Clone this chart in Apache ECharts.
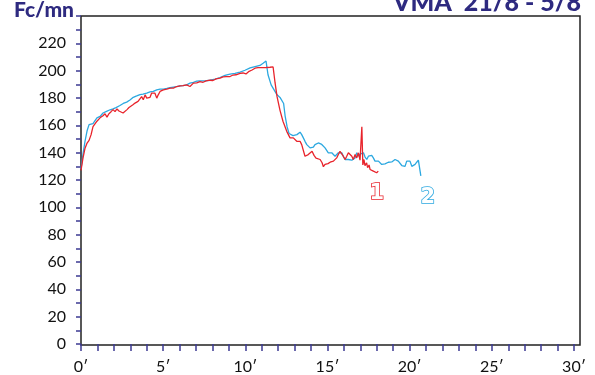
<!DOCTYPE html>
<html>
<head>
<meta charset="utf-8">
<script src="https://cdn.jsdelivr.net/npm/echarts@6/dist/echarts.min.js"></script>
<style>
html,body{margin:0;padding:0;background:#fff;}
#chart{width:595px;height:375px;}
</style>
</head>
<body>
<div id="chart"></div>
<script>
// Test 1 (red)
var redTime = [0.00,0.12,0.24,0.37,0.49,0.61,0.73,0.85,0.97,1.16,1.34,1.46,1.58,1.70,1.83,1.95,2.07,2.19,2.31,2.43,2.56,2.68,2.80,2.92,3.04,3.16,3.29,3.47,3.59,3.69,3.79,3.90,4.00,4.11,4.20,4.30,4.40,4.50,4.61,4.70,4.81,5.01,5.22,5.42,5.62,5.82,6.03,6.21,6.43,6.63,6.84,7.04,7.24,7.43,7.61,7.85,8.03,8.22,8.46,8.64,8.83,9.07,9.25,9.43,9.68,9.86,10.04,10.23,10.41,10.59,10.77,11.02,11.26,11.50,11.69,11.81,11.93,12.11,12.29,12.52,12.62,12.72,12.82,12.92,13.02,13.13,13.23,13.33,13.43,13.53,13.63,13.74,13.83,13.94,14.06,14.18,14.30,14.42,14.55,14.67,14.75,14.85,14.95,15.03,15.16,15.26,15.36,15.46,15.56,15.66,15.76,15.87,15.96,16.07,16.17,16.27,16.37,16.48,16.57,16.68,16.78,16.88,16.98,17.09,17.15,17.22,17.28,17.38,17.44,17.53,17.59,17.71,17.79,17.89,17.99,18.09];
var redHr = [127,136,143,147,149,153,159,161,163,165.5,167,168.5,166,168.5,170,171.5,170,172,170.5,171.5,169,168,171.5,173,173.8,175,176.3,177.5,178.7,181,178.7,182.3,179.9,181,180.5,183.6,184.8,183.5,179.9,182.3,184.8,186,186.5,187.2,187.2,188.4,188.9,189,189.6,188.4,190.9,191,192,191.5,192.5,193,192.8,194,194.5,195.5,195.7,195.7,196.8,197,198,198.3,197.6,199.5,200.5,201.8,202.2,202.2,202.3,202.5,202.7,191,181,171,163,155.6,154.4,150.8,152,150.8,152,148.3,147.1,148.3,145.9,144.7,137.4,136.2,138.6,139.9,141,138,136,137.4,135,132.6,129.7,131.4,132.6,132,133,132.4,133.8,135,136.2,138.6,141,139.9,137.4,135,137.4,139.9,138.6,137.4,135,138.6,136.2,139.9,134.5,159,131,135,130.5,132.5,129,131,127.7,128.5,126.5,127.7,125.3,126.5];

// Test 2 (blue)
var blueTime = [0.00,0.06,0.12,0.24,0.37,0.49,0.61,0.73,0.85,0.97,1.16,1.34,1.52,1.77,1.95,2.13,2.37,2.57,2.78,2.98,3.18,3.39,3.59,3.77,4.00,4.20,4.40,4.61,4.81,4.91,5.01,5.22,5.42,5.62,5.82,6.03,6.21,6.43,6.63,6.84,7.04,7.24,7.55,7.85,8.16,8.46,8.76,9.07,9.37,9.68,9.98,10.29,10.59,10.89,11.08,11.26,11.38,11.57,11.75,11.93,12.11,12.23,12.33,12.42,12.54,12.66,12.78,12.90,13.02,13.14,13.23,13.33,13.43,13.53,13.63,13.74,13.83,13.94,14.04,14.14,14.24,14.34,14.44,14.55,14.65,14.75,14.85,14.95,15.05,15.16,15.26,15.36,15.46,15.56,15.66,15.76,15.87,15.96,16.07,16.17,16.27,16.37,16.48,16.57,16.68,16.78,16.88,16.98,17.09,17.19,17.28,17.39,17.49,17.59,17.69,17.79,17.89,17.99,18.10,18.20,18.30,18.40,18.50,18.61,18.70,18.81,18.91,19.01,19.11,19.21,19.31,19.42,19.52,19.62,19.72,19.82,19.92,20.02,20.13,20.23,20.33,20.43,20.53,20.59,20.68];
var blueHr = [128,133,139,148,156,160.5,161,161.2,162,165.4,166.5,169,170,171.4,172,173,174.5,176,177,178.5,180.5,181.5,182.5,182.8,183.6,184.5,184.8,186,186.5,185.5,186.5,187,187.5,188,188.3,188.9,189,189.6,190.9,191.5,192.3,192.5,192.5,193,193.8,195,196.5,197.5,198,199,200.3,202,203,203.8,205.4,207,197,189.6,186,182.3,180.4,179.5,176,167,159,154,153.5,152.5,153.5,153.2,154.4,155,153.2,150.8,148.3,145.9,144.7,143.5,144.7,144,145.9,146.5,147.1,147.1,146,144.7,143.5,142.3,139.9,138.6,139.9,139,137.4,138.6,139.9,141,139.9,137.4,135,133.8,135,133.8,134.5,133.8,136.2,139.9,137.4,139,138,139.9,137,135,137.4,138.6,138,136.2,133.8,132.6,133.8,132.6,131.4,130.6,131.8,132.6,133,133.8,133.2,133.8,135,135.5,133.8,132.6,130.6,130,130,133.8,133,133.8,130,130,131.4,133,134.5,135.5,123];

var seriesLabels = ['1', '2'];
var labelTime = [18.0, 21.1];
var labelHr = [110, 107];

var yTitle = 'Fc/mn';
var chartTitle = 'VMA  21/8 - 5/8';
var xTickLabels = ['0′','5′','10′','15′','20′','25′','30′'];
var yTickLabels = ['0','20','40','60','80','100','120','140','160','180','200','220'];

function zip(a, b) { return a.map(function (v, i) { return [v, b[i]]; }); }

var RED = '#E8232B';
var BLUE = '#2CA8E0';
var NAVY = '#2E2A80';
var TICK = '#3D3A92';

var chart = echarts.init(document.getElementById('chart'), null, {renderer: 'canvas'});
chart.setOption({
  animation: false,
  backgroundColor: '#fff',
  title: {
    text: chartTitle,
    right: 14,
    top: -10,
    padding: 0,
    textStyle: {fontFamily: 'Lato', fontWeight: 900, fontSize: 25, color: NAVY}
  },
  graphic: [{
    type: 'text', left: 14, top: 0,
    style: {text: yTitle, font: '900 21px Lato', fill: NAVY}
  }],
  grid: [
    {left: 81, right: 21, top: 16, bottom: 30},
    {left: 81, right: 15, top: 16, bottom: 30, show: true, borderColor: '#222', borderWidth: 1.5, backgroundColor: 'transparent'}
  ],
  xAxis: [
    {
      type: 'value', gridIndex: 0, min: 0, max: 30, interval: 1, offset: 2,
      axisLine: {show: false},
      axisTick: {show: true, length: 7, lineStyle: {color: TICK, width: 1.5}},
      splitLine: {show: false},
      axisLabel: {
        margin: 13, color: '#111', fontFamily: 'Lato', fontSize: 16,
        formatter: function (v) { return v % 5 === 0 ? xTickLabels[v / 5] : ''; }
      }
    },
    {type: 'value', gridIndex: 1, show: false, min: 0, max: 1}
  ],
  yAxis: [
    {
      type: 'value', gridIndex: 0, min: 0, max: 240, interval: 10, offset: 5,
      axisLine: {show: false},
      axisTick: {show: true, length: 5, lineStyle: {color: TICK, width: 1.5}},
      splitLine: {show: false},
      axisLabel: {
        margin: 10, color: '#111', fontFamily: 'Lato', fontSize: 16,
        formatter: function (v) { return (v % 20 === 0 && v / 20 < yTickLabels.length) ? yTickLabels[v / 20] : ''; }
      }
    },
    {type: 'value', gridIndex: 1, show: false, min: 0, max: 1}
  ],
  series: [
    {
      type: 'line', xAxisIndex: 0, yAxisIndex: 0, data: zip(blueTime, blueHr),
      showSymbol: false, symbol: 'none', lineStyle: {color: BLUE, width: 1.3}, z: 2,
      markPoint: {
        symbol: 'circle', symbolSize: 0,
        data: [{coord: [labelTime[1], labelHr[1]], value: seriesLabels[1]}],
        label: {show: true, formatter: seriesLabels[1], fontFamily: 'DejaVu Sans', fontWeight: 'bold', fontSize: 21,
          color: '#fff', textBorderColor: BLUE, textBorderWidth: 1.6}
      }
    },
    {
      type: 'line', xAxisIndex: 0, yAxisIndex: 0, data: zip(redTime, redHr),
      showSymbol: false, symbol: 'none', lineStyle: {color: RED, width: 1.3}, z: 3,
      markPoint: {
        symbol: 'circle', symbolSize: 0,
        data: [{coord: [labelTime[0], labelHr[0]], value: seriesLabels[0]}],
        label: {show: true, formatter: seriesLabels[0], fontFamily: 'DejaVu Sans', fontWeight: 'bold', fontSize: 21,
          color: '#fff', textBorderColor: RED, textBorderWidth: 1.6}
      }
    }
  ]
});
</script>
</body>
</html>
